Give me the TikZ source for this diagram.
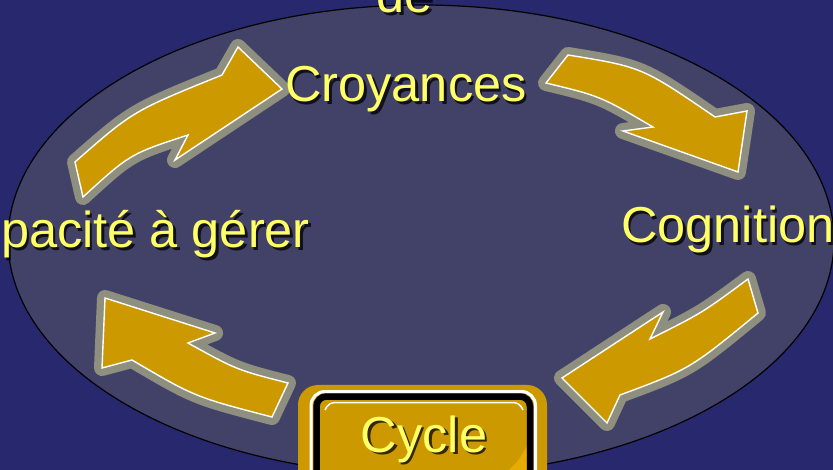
\documentclass[tikz,border=0pt]{standalone}
\usepackage{fontspec}
\setmainfont{Liberation Sans}
\definecolor{bgblue}{HTML}{28286F}
\definecolor{ellfill}{HTML}{424268}
\definecolor{gold}{HTML}{CC9900}
\definecolor{goldlight}{HTML}{E8AC00}
\definecolor{halogrey}{HTML}{8F8F80}
\definecolor{txtyellow}{HTML}{FFFF66}
\newcommand\goldarrow[1]{\draw[halo] #1; \draw[arrowbody] #1;}
\newcommand\shtext[4]{%
  \node[shadowlbl, anchor=#3, xshift=2.5pt, yshift=-2.5pt] at (#2) {#4};
  \node[lbl, anchor=#3] (#1) at (#2) {#4};}
\begin{document}
\begin{tikzpicture}[x=1pt,y=-1pt,
  lbl/.style={font=\fontsize{50.5}{56}\selectfont, text=txtyellow, inner sep=0pt},
  shadowlbl/.style={font=\fontsize{50.5}{56}\selectfont, text=black, opacity=0.75, inner sep=0pt},
  halo/.style={draw=halogrey, fill=halogrey, line width=16pt, line join=round},
  arrowbody/.style={fill=gold, draw=white, line width=1.4pt, line join=miter}]
\useasboundingbox (0,0) rectangle (833,470);
\clip (0,0) rectangle (833,470);
\fill[bgblue] (0,0) rectangle (833,470);
\draw[fill=ellfill, line width=1.2pt] (421,240) ellipse [x radius=413pt, y radius=235pt];

% arrows
\goldarrow{(83,197) -- (75,162) .. controls (133,111) .. (222,75) -- (238,47) -- (282,89) -- (175,160) -- (188,135) .. controls (130,154) .. (83,197) -- cycle}
\goldarrow{(568,55) .. controls (642,67) .. (715,117) -- (747,111) -- (738,172) -- (623,131) -- (653,127) .. controls (600,96) .. (546,83) -- cycle}
\goldarrow{(748,279) .. controls (702,313) .. (650,339) -- (663,312) -- (562,378) -- (607,423) -- (620,395) .. controls (690,369) .. (758,313) -- cycle}
\goldarrow{(105,298) -- (215,333) -- (188,343) .. controls (237,370) .. (288,383) -- (272,417) .. controls (195,397) .. (132,360) -- (102,368) -- cycle}

% cycle box
\fill[gold, rounded corners=20pt] (298,385) rectangle (547,520);
\draw[white, line width=3pt, rounded corners=14pt] (311,391.5) rectangle (535.5,520);
\fill[gold, rounded corners=10pt] (316.5,396.5) rectangle (530,520);
\fill[goldlight] (509,470) .. controls (519,460) .. (530,441) -- (530,470) -- cycle;
\draw[black, line width=6.5pt, rounded corners=10pt] (316.5,396.5) rectangle (530,520);
\draw[white, line width=1.5pt, rounded corners=5pt] (325,410) -- (329,402.5) -- (519,402.5) -- (523,410);

% texts
\shtext{de}{405,13}{base}{de}
\shtext{croy}{406,102}{base}{Croyances}
\shtext{cogn}{621,243}{base west}{Cognition}
\shtext{capa}{310,248}{base east}{pacité à gérer}
\shtext{cycle}{424,452}{base}{Cycle}
\end{tikzpicture}
\end{document}
